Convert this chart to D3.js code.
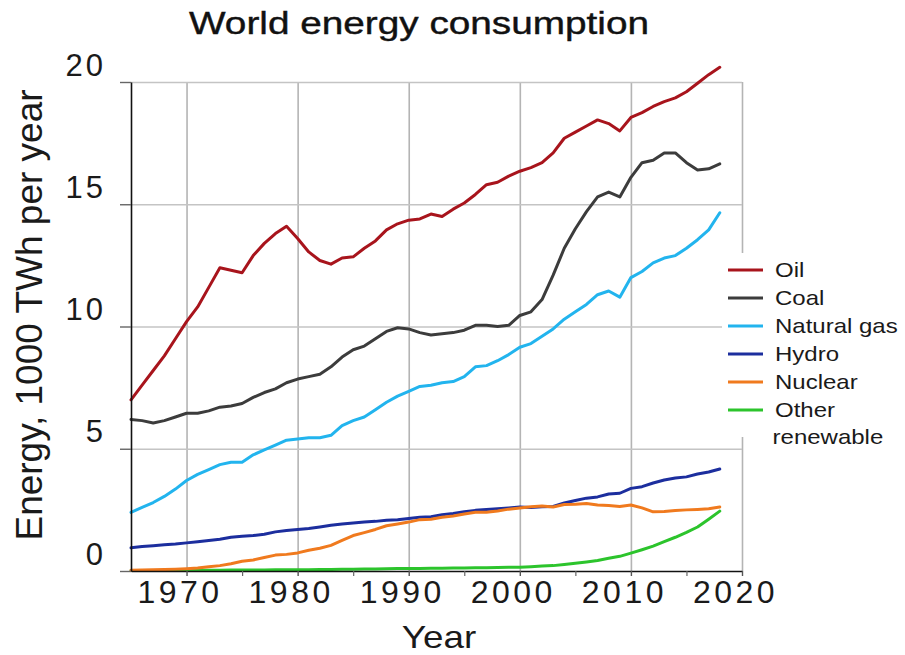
<!DOCTYPE html>
<html>
<head>
<meta charset="utf-8">
<script src="https://cdn.jsdelivr.net/npm/d3@7/dist/d3.min.js"></script>
<style>
  html, body { margin: 0; padding: 0; background: #fff; }
  svg { display: block; font-family: "Liberation Sans", Arial, sans-serif; }
</style>
</head>
<body>
<svg id="chart" width="905" height="655"></svg>
<script>
// 数据：1000 TWh / 年
const years = [1965, 1966, 1967, 1968, 1969, 1970, 1971, 1972, 1973, 1974,
  1975, 1976, 1977, 1978, 1979, 1980, 1981, 1982, 1983, 1984,
  1985, 1986, 1987, 1988, 1989, 1990, 1991, 1992, 1993, 1994,
  1995, 1996, 1997, 1998, 1999, 2000, 2001, 2002, 2003, 2004,
  2005, 2006, 2007, 2008, 2009, 2010, 2011, 2012, 2013, 2014,
  2015, 2016, 2017, 2018];

const oil = [7.0, 7.6, 8.2, 8.8, 9.5, 10.2, 10.8, 11.6, 12.4, 12.3,
  12.2, 12.9, 13.4, 13.8, 14.1, 13.6, 13.05, 12.7, 12.55, 12.8,
  12.85, 13.2, 13.5, 13.95, 14.2, 14.35, 14.4, 14.6, 14.5, 14.8,
  15.05, 15.4, 15.8, 15.9, 16.15, 16.35, 16.5, 16.7, 17.1, 17.7,
  17.95, 18.2, 18.45, 18.3, 18.0, 18.55, 18.75, 19.0, 19.2, 19.35,
  19.6, 19.95, 20.3, 20.6];

const coal = [6.2, 6.15, 6.05, 6.15, 6.3, 6.45, 6.45, 6.55, 6.7, 6.75,
  6.85, 7.1, 7.3, 7.45, 7.7, 7.85, 7.95, 8.05, 8.35, 8.75,
  9.05, 9.2, 9.5, 9.8, 9.95, 9.9, 9.75, 9.65, 9.7, 9.75,
  9.85, 10.05, 10.05, 10.0, 10.05, 10.45, 10.6, 11.1, 12.1, 13.2,
  14.0, 14.7, 15.3, 15.5, 15.3, 16.1, 16.7, 16.8, 17.1, 17.1,
  16.7, 16.4, 16.45, 16.65];

const naturalGas = [2.4, 2.6, 2.8, 3.05, 3.35, 3.7, 3.95, 4.15, 4.35, 4.45,
  4.45, 4.75, 4.95, 5.15, 5.35, 5.4, 5.45, 5.45, 5.55, 5.95,
  6.15, 6.3, 6.6, 6.9, 7.15, 7.35, 7.55, 7.6, 7.7, 7.75,
  7.95, 8.35, 8.4, 8.6, 8.85, 9.15, 9.3, 9.6, 9.9, 10.3,
  10.6, 10.9, 11.3, 11.45, 11.2, 12.0, 12.25, 12.6, 12.8, 12.9,
  13.2, 13.55, 13.95, 14.65];

const hydro = [0.95, 1.0, 1.03, 1.07, 1.1, 1.15, 1.2, 1.25, 1.3, 1.38,
  1.42, 1.45, 1.5, 1.6, 1.66, 1.7, 1.74, 1.8, 1.87, 1.92,
  1.96, 2.0, 2.03, 2.08, 2.1, 2.15, 2.2, 2.22, 2.3, 2.35,
  2.42, 2.48, 2.52, 2.55, 2.58, 2.62, 2.6, 2.63, 2.64, 2.78,
  2.88, 2.98, 3.03, 3.15, 3.18, 3.38, 3.45, 3.6, 3.72, 3.8,
  3.85, 3.97, 4.05, 4.17];

const nuclear = [0.03, 0.04, 0.05, 0.06, 0.07, 0.09, 0.12, 0.17, 0.22, 0.3,
  0.4, 0.45, 0.55, 0.65, 0.68, 0.74, 0.85, 0.93, 1.05, 1.25,
  1.45, 1.57, 1.7, 1.85, 1.92, 2.0, 2.1, 2.12, 2.2, 2.25,
  2.33, 2.4, 2.4, 2.45, 2.53, 2.58, 2.63, 2.66, 2.62, 2.72,
  2.73, 2.76, 2.7, 2.68, 2.64, 2.7, 2.58, 2.42, 2.43, 2.47,
  2.5, 2.52, 2.55, 2.62];

const otherRenewable = [0.02, 0.02, 0.02, 0.02, 0.03, 0.03, 0.03, 0.03, 0.03, 0.04,
  0.04, 0.04, 0.04, 0.05, 0.05, 0.05, 0.05, 0.06, 0.06, 0.07,
  0.07, 0.08, 0.08, 0.09, 0.1, 0.1, 0.1, 0.11, 0.11, 0.12,
  0.12, 0.13, 0.13, 0.14, 0.15, 0.15, 0.17, 0.2, 0.22, 0.27,
  0.32, 0.37, 0.43, 0.52, 0.6, 0.73, 0.87, 1.02, 1.2, 1.38,
  1.58, 1.8, 2.12, 2.45];

const seriesNames = ['Oil', 'Coal', 'Natural gas', 'Hydro', 'Nuclear', 'Other renewable'];
const seriesColors = ['#a8141c', '#3c3c3c', '#22b4ee', '#1c2e9e', '#f07a1e', '#2cc42c'];
const seriesValues = [oil, coal, naturalGas, hydro, nuclear, otherRenewable];

const xTickYears = [1970, 1980, 1990, 2000, 2010, 2020];
const xMinorYears = [1975, 1985, 1995, 2005, 2015];
const yTickValues = [0, 5, 10, 15, 20];

// 画布
const svg = d3.select('#chart');
const x = d3.scaleLinear().domain([1965, 2020]).range([131, 742]);
const y = d3.scaleLinear().domain([0, 20]).range([571, 82]);

// 网格线
svg.append('g')
  .attr('transform', `translate(0,${y(0)})`)
  .call(d3.axisBottom(x).tickValues(xTickYears).tickSize(-(y(0) - y(20))).tickSizeOuter(0).tickFormat(''))
  .call(g => g.select('.domain').remove())
  .call(g => g.selectAll('line').attr('stroke', '#b4b4b4').attr('stroke-width', 1.6));

svg.append('g')
  .attr('transform', `translate(${x(1965)},0)`)
  .call(d3.axisLeft(y).tickValues(yTickValues.slice(1)).tickSize(-(x(2020) - x(1965))).tickSizeOuter(0).tickFormat(''))
  .call(g => g.select('.domain').remove())
  .call(g => g.selectAll('line').attr('stroke', '#c4c4c4').attr('stroke-width', 1.6));

// 折线
const line = d3.line()
  .x((d, i) => x(years[i]))
  .y(d => y(d));

const drawOrder = [2, 1, 0, 5, 3, 4];
svg.append('g')
  .selectAll('path')
  .data(drawOrder)
  .join('path')
  .attr('d', k => line(seriesValues[k]))
  .attr('fill', 'none')
  .attr('stroke', k => seriesColors[k])
  .attr('stroke-width', 3)
  .attr('stroke-linejoin', 'round')
  .attr('stroke-linecap', 'round');

// 坐标轴
const xAxis = svg.append('g')
  .attr('transform', `translate(0,${y(0)})`)
  .call(d3.axisBottom(x).tickValues(xTickYears).tickSize(5).tickSizeOuter(0).tickFormat(d3.format('d')));
xAxis.select('.domain').attr('stroke', '#111').attr('stroke-width', 1.6);
xAxis.selectAll('line').attr('stroke', '#555').attr('stroke-width', 1.4);
xAxis.selectAll('text')
  .attr('y', 32).attr('dy', 0).attr('x', -7)
  .attr('fill', '#1a1a1a')
  .style('font-size', '32px')
  .style('letter-spacing', '3.5px')
  .style('font-family', '"Liberation Sans", Arial, sans-serif');

svg.append('g')
  .attr('transform', `translate(0,${y(0)})`)
  .call(d3.axisBottom(x).tickValues(xMinorYears).tickSize(5).tickSizeOuter(0).tickFormat(''))
  .call(g => g.select('.domain').remove())
  .call(g => g.selectAll('line').attr('stroke', '#666').attr('stroke-width', 1.2));

const yAxis = svg.append('g')
  .attr('transform', `translate(${x(1965)},0)`)
  .call(d3.axisLeft(y).tickValues(yTickValues).tickSize(11).tickSizeOuter(0));
yAxis.select('.domain').attr('stroke', '#111').attr('stroke-width', 1.6);
yAxis.selectAll('line').attr('stroke', '#666').attr('stroke-width', 1.4);
yAxis.selectAll('text')
  .attr('x', -25).attr('dy', -7)
  .attr('fill', '#1a1a1a')
  .style('font-size', '31px')
  .style('letter-spacing', '3px')
  .style('font-family', '"Liberation Sans", Arial, sans-serif');

// 标题与轴标题
svg.append('g')
  .attr('transform', 'translate(419,34) scale(1.25,1)')
  .append('text')
  .attr('text-anchor', 'middle')
  .attr('fill', '#111')
  .attr('stroke', '#111')
  .attr('stroke-width', 0.4)
  .style('font-size', '31px')
  .text('World energy consumption');

svg.append('g')
  .attr('transform', 'translate(439,648) scale(1.15,1)')
  .append('text')
  .attr('text-anchor', 'middle')
  .attr('fill', '#1a1a1a')
  .style('font-size', '32px')
  .text('Year');

svg.append('text')
  .attr('transform', 'translate(42,315) rotate(-90)')
  .attr('text-anchor', 'middle')
  .attr('fill', '#1a1a1a')
  .style('font-size', '37px')
  .text('Energy, 1000 TWh per year');

// 图例
const legend = svg.append('g');
legend.append('rect')
  .attr('x', 722).attr('y', 253)
  .attr('width', 183).attr('height', 184)
  .attr('fill', '#fff');

const item = legend.selectAll('g.item')
  .data(seriesNames)
  .join('g')
  .attr('class', 'item')
  .attr('transform', (d, i) => `translate(0,${270 + i * 28})`);

item.append('line')
  .attr('x1', 728).attr('x2', 763)
  .attr('stroke', (d, i) => seriesColors[i])
  .attr('stroke-width', 3);

item.append('g')
  .attr('transform', 'translate(775,7) scale(1.2,1)')
  .append('text')
  .attr('fill', '#1a1a1a')
  .style('font-size', '20px')
  .each(function (d) {
    const words = d === 'Other renewable' ? ['Other', 'renewable'] : [d];
    d3.select(this).selectAll('tspan')
      .data(words)
      .join('tspan')
      .attr('x', (w, j) => j ? -2 : 0)
      .attr('dy', (w, j) => j ? 27 : 0)
      .text(w => w);
  });
</script>
</body>
</html>
